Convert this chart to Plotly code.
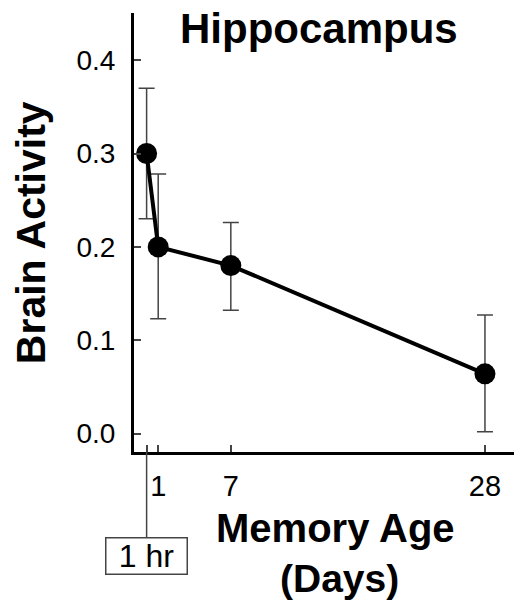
import plotly.graph_objects as go

# Data (memory age in days; 1 hr = 1/24 day)
memory_age_days = [1 / 24, 1, 7, 28]
brain_activity = [0.300, 0.200, 0.180, 0.064]
err_upper = [0.070, 0.078, 0.046, 0.063]
err_lower = [0.070, 0.077, 0.048, 0.062]

x_tick_vals = [1 / 24, 1, 7, 28]
x_tick_text = ["", "1", "7", "28"]
y_tick_vals = [0.0, 0.1, 0.2, 0.3, 0.4]
y_tick_text = ["0.0", "0.1", "0.2", "0.3", "0.4"]

FONT = "Liberation Sans, Arial, sans-serif"

fig = go.Figure()
fig.add_trace(go.Scatter(
    x=memory_age_days,
    y=brain_activity,
    mode="lines+markers",
    line=dict(color="black", width=4),
    marker=dict(color="black", size=21),
    error_y=dict(type="data", symmetric=False, array=err_upper, arrayminus=err_lower,
                 color="#444444", thickness=1.5, width=8),
    cliponaxis=False,
    showlegend=False,
))

fig.update_layout(
    width=514, height=600,
    margin=dict(l=134, r=0, t=13, b=148),
    paper_bgcolor="white", plot_bgcolor="white",
    font=dict(family=FONT, color="black"),
    xaxis=dict(
        range=[-1.0, 30.4],
        tickvals=x_tick_vals, ticktext=x_tick_text,
        ticks="inside", ticklen=7, tickwidth=1.5, tickcolor="#444444",
        tickfont=dict(size=29, family=FONT, color="black"),
        showline=True, linecolor="black", linewidth=3,
        showgrid=False, zeroline=False,
        ticklabelstandoff=6,
    ),
    yaxis=dict(
        range=[-0.0197, 0.4505],
        tickvals=y_tick_vals, ticktext=y_tick_text,
        ticks="inside", ticklen=7, tickwidth=1.5, tickcolor="#444444",
        tickfont=dict(size=28, family=FONT, color="black"),
        showline=True, linecolor="black", linewidth=3,
        showgrid=False, zeroline=False,
        ticklabelstandoff=10,
    ),
    shapes=[
        dict(type="line", xref="x", yref="paper",
             x0=memory_age_days[0], x1=memory_age_days[0], y0=0, y1=-0.194,
             line=dict(color="#444444", width=1.5)),
    ],
    annotations=[
        dict(text="<b>Hippocampus</b>", xref="paper", yref="paper",
             x=0.487, y=1.022, xanchor="center", yanchor="top", showarrow=False,
             font=dict(size=42, family=FONT, color="black")),
        dict(text="<b>Brain Activity</b>", xref="paper", yref="paper",
             x=-0.272, y=0.50, xanchor="center", yanchor="middle", textangle=-90,
             showarrow=False, font=dict(size=41, family=FONT, color="black")),
        dict(text="<b>Memory Age</b>", xref="paper", yref="paper",
             x=0.53, y=-0.174, xanchor="center", yanchor="middle", showarrow=False,
             font=dict(size=40, family=FONT, color="black")),
        dict(text="<b>(Days)</b>", xref="paper", yref="paper",
             x=0.54, y=-0.288, xanchor="center", yanchor="middle", showarrow=False,
             font=dict(size=39, family=FONT, color="black")),
        dict(text="1 hr", xref="x", yref="paper",
             x=memory_age_days[0], y=-0.194, xanchor="center", yanchor="top",
             showarrow=False, bordercolor="#444444", borderwidth=1.5, borderpad=1,
             width=78, height=33, align="center",
             bgcolor="white", font=dict(size=32, family=FONT, color="black")),
    ],
)

fig.write_html("out.html")
